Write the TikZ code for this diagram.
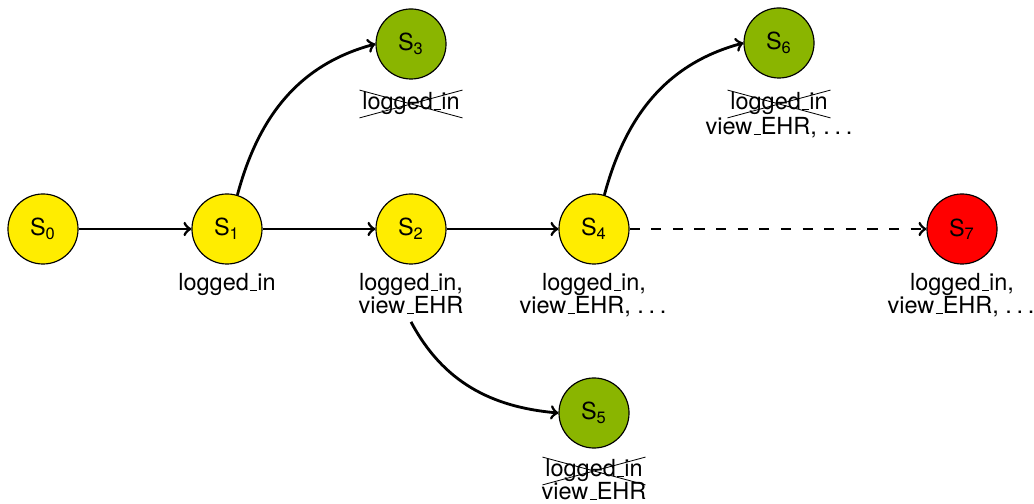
\documentclass[tikz,border=0pt]{standalone}
\usepackage{fontspec}
\setmainfont{TeX Gyre Heros}
\usetikzlibrary{shapes.misc}
\definecolor{stYellow}{RGB}{255,237,0}
\definecolor{stGreen}{RGB}{138,181,0}
\definecolor{stRed}{RGB}{255,0,0}
\newcommand\us{\leavevmode\kern.06em\vbox{\hrule width.3em}}
\newcommand\dotsx{.\kern.2em.\kern.2em.}
\begin{document}
\begin{tikzpicture}[x=0.4255pt,y=-0.4255pt,
  state/.style={circle,draw=black,line width=0.5pt,minimum size=29.8pt,inner sep=0pt,font=\fontsize{10}{12}\selectfont},
  okstate/.style={state,fill=stYellow},
  goodstate/.style={state,fill=stGreen},
  badstate/.style={state,fill=stRed},
  lbl/.style={anchor=base,inner sep=0pt,font=\fontsize{10}{12}\selectfont},
  xlbl/.style={cross out,draw,line width=0.35pt,anchor=base,inner sep=1pt,font=\fontsize{10}{12}\selectfont},
  edge/.style={->,line width=1.2pt},
  dedge/.style={->,line width=1.2pt,dash pattern=on 4.3pt off 4.9pt}]
\useasboundingbox (0,0) rectangle (1034,504);
\node[okstate] (s0) at (43,229) {S\textsubscript{0}};
\node[okstate] (s1) at (227,229) {S\textsubscript{1}};
\node[okstate] (s2) at (411,229) {S\textsubscript{2}};
\node[okstate] (s4) at (594,229) {S\textsubscript{4}};
\node[badstate] (s7) at (962,229) {S\textsubscript{7}};
\node[goodstate] (s3) at (411,44) {S\textsubscript{3}};
\node[goodstate] (s6) at (779,43) {S\textsubscript{6}};
\node[goodstate] (s5) at (594,413) {S\textsubscript{5}};
% labels
\node[lbl] (l1) at (227,291) {logged\us in};
\node[lbl] (l2a) at (411,291) {logged\us in,};
\node[lbl] (l2b) at (411,314) {view\us EHR};
\node[lbl] (l4a) at (594,291) {logged\us in,};
\node[lbl] (l4b) at (593,314) {view\us EHR, \dotsx};
\node[lbl] (l7a) at (962,291) {logged\us in,};
\node[lbl] (l7b) at (961,314) {view\us EHR, \dotsx};
\node[xlbl] (l3) at (411,110) {logged\us in};
\node[xlbl] (l6a) at (779,110) {logged\us in};
\node[lbl] (l6b) at (779,135) {view\us EHR, \dotsx};
\node[xlbl] (l5a) at (594,477) {logged\us in};
\node[lbl] (l5b) at (594,500) {view\us EHR};
% edges
\draw[edge] (s0) -- (s1);
\draw[edge] (s1) -- (s2);
\draw[edge] (s2) -- (s4);
\draw[dedge] (s4) -- (s7);
\draw[edge] (s1.73) to[out=75,in=195] (s3.west);
\draw[edge] (s4.73) to[out=75,in=195] (s6.west);
\draw[edge] ([yshift=-3pt]l2b.south) to[out=-62,in=175] (s5.west);
\end{tikzpicture}
\end{document}
